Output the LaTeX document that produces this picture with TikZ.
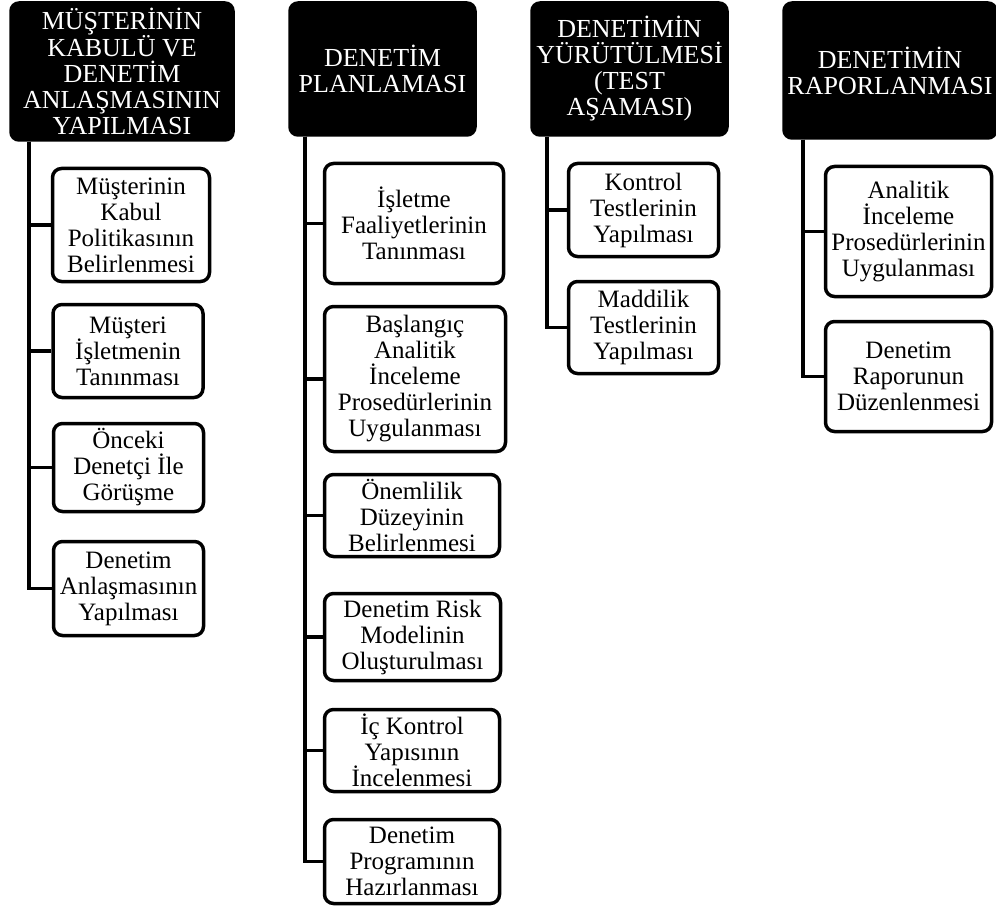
\documentclass[tikz,border=0pt]{standalone}
\usepackage{fontspec}
\setmainfont{Liberation Serif}
\begin{document}
\begin{tikzpicture}[x=1pt,y=-1pt,
  every node/.style={font=\fontsize{25}{26}\selectfont, align=center, inner sep=1pt},
  head/.style={draw=black, fill=black, text=white, rounded corners=9pt, line width=1.5pt, font=\fontsize{26}{26}\selectfont},
  sub/.style={draw=black, fill=white, rounded corners=9pt, line width=3.5pt},
  conn/.style={line width=3.5pt}]
\useasboundingbox (0,0) rectangle (996,920);
% headers
\node[head, minimum width=224, minimum height=139] (h1) at (122,71.5) {MÜŞTERİNİN\\KABULÜ VE\\DENETİM\\ANLAŞMASININ\\YAPILMASI};
\node[head, minimum width=187, minimum height=134] (h2) at (382.5,69) {DENETİM\\PLANLAMASI};
\node[head, minimum width=197, minimum height=134] (h3) at (629.5,69) {DENETİMİN\\YÜRÜTÜLMESİ\\(TEST\\AŞAMASI)};
\node[head, minimum width=214, minimum height=137] (h4) at (890,70.5) {DENETİMİN\\RAPORLANMASI};
% column 1
\node[sub, minimum width=157, minimum height=113] (c11) at (131,225) {Müşterinin\\Kabul\\Politikasının\\Belirlenmesi};
\node[sub, minimum width=150, minimum height=93] (c12) at (128,351) {Müşteri\\İşletmenin\\Tanınması};
\node[sub, minimum width=150, minimum height=88] (c13) at (128.5,467.5) {Önceki\\Denetçi İle\\Görüşme};
\node[sub, minimum width=150, minimum height=94] (c14) at (128.5,588.5) {Denetim\\Anlaşmasının\\Yapılması};
% column 2
\node[sub, minimum width=179, minimum height=120] (c21) at (414,223.5) {İşletme\\Faaliyetlerinin\\Tanınması};
\node[sub, minimum width=181, minimum height=145] (c22) at (415,379) {Başlangıç\\Analitik\\İnceleme\\Prosedürlerinin\\Uygulanması};
\node[sub, minimum width=175, minimum height=82] (c23) at (412,515.5) {Önemlilik\\Düzeyinin\\Belirlenmesi};
\node[sub, minimum width=176, minimum height=87] (c24) at (412.5,637) {Denetim Risk\\Modelinin\\Oluşturulması};
\node[sub, minimum width=175, minimum height=82] (c25) at (412,750.5) {İç Kontrol\\Yapısının\\İncelenmesi};
\node[sub, minimum width=175, minimum height=84] (c26) at (412,861.5) {Denetim\\Programının\\Hazırlanması};
% column 3
\node[sub, minimum width=150, minimum height=93] (c31) at (643.5,210) {Kontrol\\Testlerinin\\Yapılması};
\node[sub, minimum width=150, minimum height=92] (c32) at (643.5,327.5) {Maddilik\\Testlerinin\\Yapılması};
% column 4
\node[sub, minimum width=166, minimum height=130] (c41) at (908.5,231.5) {Analitik\\İnceleme\\Prosedürlerinin\\Uygulanması};
\node[sub, minimum width=166, minimum height=110] (c42) at (908.5,376.5) {Denetim\\Raporunun\\Düzenlenmesi};
% trunk coordinates
\coordinate (v1) at (h1.south -| 29,0);
\coordinate (v2) at (h2.south -| 305,0);
\coordinate (v3) at (h3.south -| 547,0);
\coordinate (v4) at (h4.south -| 803,0);
% connectors
\foreach \c in {c11,c12,c13,c14} \draw[conn] (v1) |- (\c.west);
\foreach \c in {c21,c22,c23,c24,c25,c26} \draw[conn] (v2) |- (\c.west);
\foreach \c in {c31,c32} \draw[conn] (v3) |- (\c.west);
\foreach \c in {c41,c42} \draw[conn] (v4) |- (\c.west);
\end{tikzpicture}
\end{document}
